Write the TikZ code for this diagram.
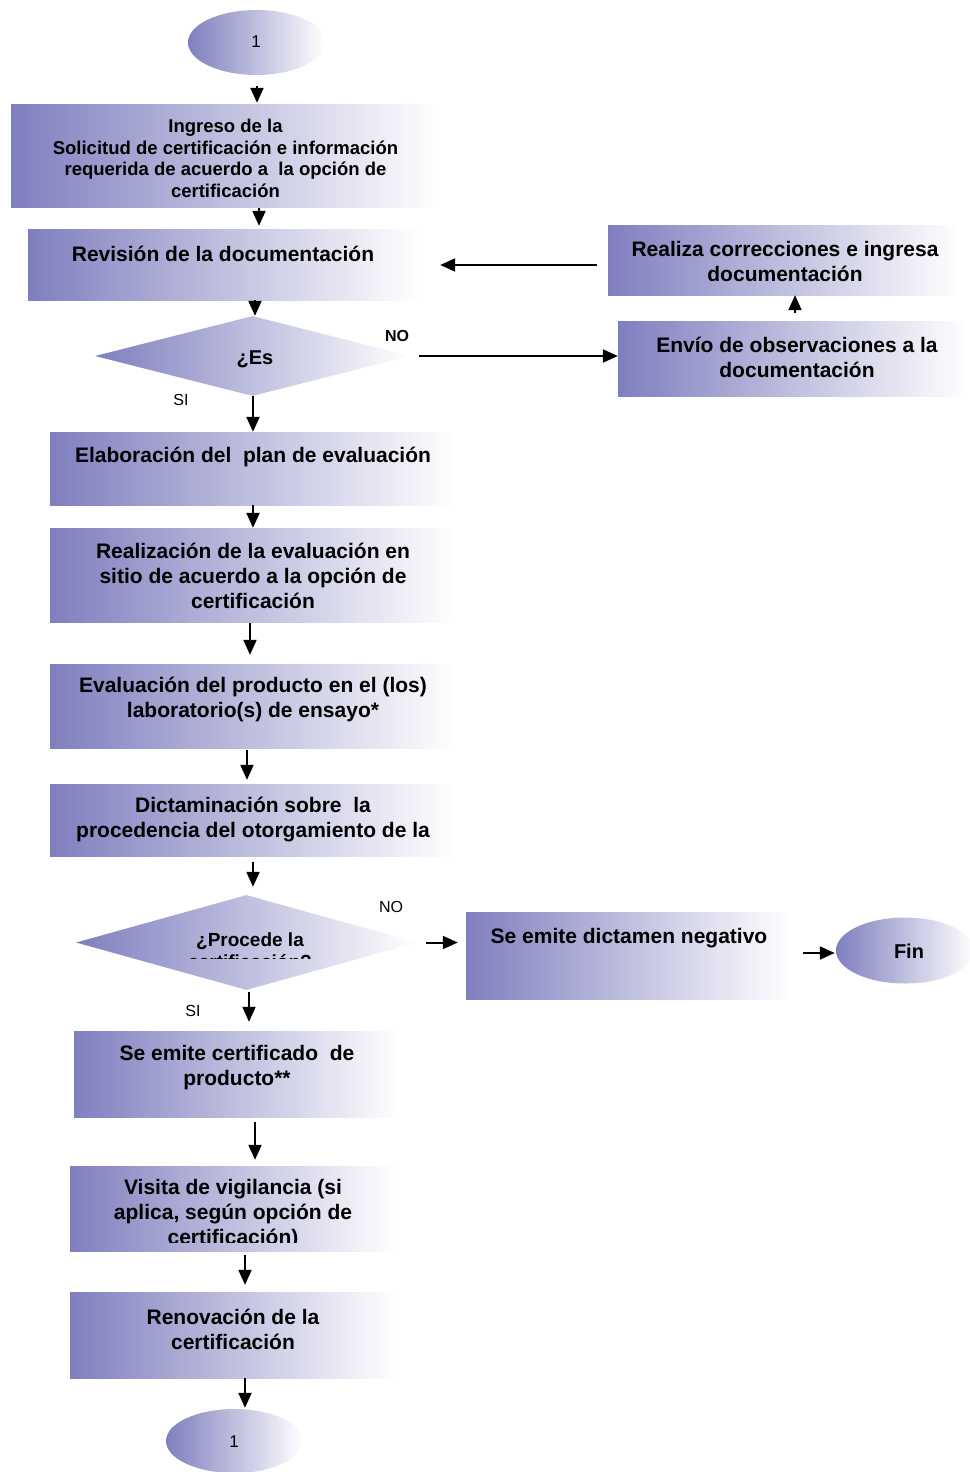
\documentclass[tikz,border=0pt]{standalone}
\usepackage{fontspec}
\setmainfont{Liberation Sans}
\usetikzlibrary{shapes.geometric,arrows.meta}
\definecolor{lila}{RGB}{127,127,191}

\begin{document}
\begin{tikzpicture}[x=1pt,y=-1pt,
  caja/.style={rectangle, inner sep=0pt, left color=lila, right color=white},
  rombo/.style={diamond, inner sep=0pt, left color=lila, right color=white},
  elipse/.style={ellipse, inner sep=0pt, left color=lila, right color=white},
  texto/.style={font=\bfseries\fontsize{21}{25}\selectfont, align=center, inner sep=0pt, yshift=-2pt},
  etiq/.style={font=\fontsize{16}{19}\selectfont, inner sep=0pt},
  flecha/.style={line width=2pt, -{Triangle[width=13pt,length=15pt]}}]

\useasboundingbox (0,0) rectangle (969,1472);

% formas
\node[elipse, minimum width=137pt, minimum height=65pt] (uno) at (256.5,42.5) {};
\node[caja, minimum width=429pt, minimum height=103pt] (ingreso) at (225.5,155.5) {};
\node[caja, minimum width=390pt, minimum height=71pt] (revision) at (223,264.5) {};
\node[caja, minimum width=352pt, minimum height=70pt] (realiza) at (784,260) {};
\node[caja, minimum width=350pt, minimum height=75pt] (envio) at (793,358.5) {};
\node[rombo, minimum width=315pt, minimum height=80pt] (es) at (252.5,356) {};
\node[caja, minimum width=405pt, minimum height=73pt] (elaboracion) at (252.5,468.5) {};
\node[caja, minimum width=405pt, minimum height=94pt] (realizacion) at (252.5,575) {};
\node[caja, minimum width=405pt, minimum height=84pt] (evaluacion) at (252.5,706) {};
\node[caja, minimum width=405pt, minimum height=72pt] (dictamen) at (252.5,820) {};
\node[rombo, minimum width=341pt, minimum height=95pt] (procede) at (246.5,942.5) {};
\node[caja, minimum width=324pt, minimum height=87pt] (negativo) at (628,955.5) {};
\node[elipse, minimum width=138pt, minimum height=66pt] (fin) at (905,950.5) {};
\node[caja, minimum width=326pt, minimum height=86pt] (certificado) at (237,1074) {};
\node[caja, minimum width=325pt, minimum height=85pt] (visita) at (232.5,1208.5) {};
\node[caja, minimum width=325pt, minimum height=86pt] (renovacion) at (232.5,1335) {};
\node[elipse, minimum width=137pt, minimum height=64pt] (uno2) at (234.5,1441) {};

% textos
\node[etiq, font=\fontsize{17}{20}\selectfont] (unot) at (256,42) {1};
\node[texto, font=\bfseries\fontsize{18.5}{21.7}\selectfont] (ingresot) at (225.5,156.5)
  {Ingreso de la\\Solicitud de certificación e información\\requerida de acuerdo a\ \ la opción de\\certificación};
\node[texto] (revisiont) at (223,252) {Revisión de la documentación};
\node[texto] (realizat) at (785,259) {Realiza correcciones e ingresa\\documentación};
\node[texto] (enviot) at (797,355) {Envío de observaciones a la\\documentación};
\node[texto, font=\bfseries\fontsize{20}{24}\selectfont] (est) at (255,357) {¿Es};
\node[etiq, font=\bfseries\fontsize{16}{19}\selectfont] (no1) at (397,336) {NO};
\node[etiq] (si1) at (181,400) {SI};
\node[texto] (elaboraciont) at (253,455) {Elaboración del\ \ plan de evaluación};
\node[texto] (realizaciont) at (253,574) {Realización de la evaluación en\\sitio de acuerdo a la opción de\\certificación};
\node[texto] (evaluaciont) at (253,697.5) {Evaluación del producto en el (los)\\laboratorio(s) de ensayo*};
\node[texto] (dictament) at (253,818) {Dictaminación sobre\ \ la\\procedencia del otorgamiento de la};
\begin{scope}
  \clip (76,895) rectangle (418,958);
  \node[texto, font=\bfseries\fontsize{19}{22}\selectfont] (procedet) at (250,949) {¿Procede la\\certificación?};
\end{scope}
\node[etiq] (no2) at (391,907) {NO};
\node[etiq] (si2) at (193,1011) {SI};
\node[texto] (negativot) at (629,936) {Se emite dictamen negativo};
\node[texto, font=\bfseries\fontsize{20}{24}\selectfont] (fint) at (909,949) {Fin};
\node[texto] (certificadot) at (237,1066) {Se emite certificado\ \ de\\producto**};
\begin{scope}
  \clip (70,1166) rectangle (395,1242);
  \node[texto] (visitat) at (233,1212) {Visita de vigilancia (si\\aplica, según opción de\\certificación)};
\end{scope}
\node[texto] (renovaciont) at (233,1327.5) {Renovación de la\\certificación};
\node[etiq, font=\fontsize{17}{20}\selectfont] (uno2t) at (234,1442) {1};

% flechas
\foreach \a/\b/\x/\s/\e in {uno/ingreso/257/11/1, ingreso/revision/259/1/3,
    revision/es/255/0/0, es/elaboracion/253/0/0, elaboracion/realizacion/253/0/0,
    realizacion/evaluacion/250/1/9, evaluacion/dictamen/247/2/4,
    dictamen/procede/253/6/8, procede/certificado/249/2/9,
    certificado/visita/255/5/6, visita/renovacion/245/4/7, renovacion/uno2/245/0/1}
  \draw[flecha, shorten <=\s pt, shorten >=\e pt] (\a.south -| \x,0) -- (\b.north -| \x,0);

\draw[flecha, shorten <=9pt] (es.east) -- (es.east -| envio.west);
\draw[flecha, shorten <=8pt] (envio.north -| 795,0) -- (realiza.south -| 795,0);
\draw[flecha, shorten <=11pt, shorten >=22pt] (realiza.west |- 0,265) -- (revision.east |- 0,265);
\draw[flecha, shorten <=9pt, shorten >=8pt] (procede.east) -- (procede.east -| negativo.west);
\draw[flecha, shorten <=13pt, shorten >=1pt] (negativo.east |- 0,953) -- (fin.west |- 0,953);
\end{tikzpicture}
\end{document}
